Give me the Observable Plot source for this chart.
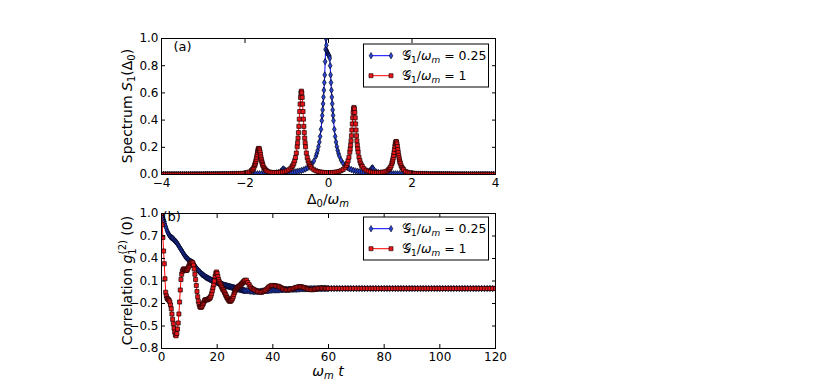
<!DOCTYPE html>
<html>
<head>
<meta charset="utf-8">
<script src="https://cdn.jsdelivr.net/npm/d3@7"></script>
<script src="https://cdn.jsdelivr.net/npm/@observablehq/plot@0.6"></script>
<style>
  html, body { margin: 0; padding: 0; background: #fff; }
  #wrap { position: relative; width: 817px; height: 388px; font-family: "DejaVu Sans", sans-serif; }
  #wrap svg { position: absolute; left: 0; }
</style>
</head>
<body>
<div id="wrap"></div>
<script>
// ---------------- Data: panel (a) spectrum ----------------
const specBlueX = [-4.0,-3.95,-3.9,-3.85,-3.8,-3.75,-3.7,-3.65,-3.6,-3.55,-3.5,-3.45,-3.4,-3.35,-3.3,-3.25,-3.2,-3.15,-3.1,-3.05,
  -3.0,-2.95,-2.9,-2.85,-2.8,-2.75,-2.7,-2.65,-2.6,-2.55,-2.5,-2.45,-2.4,-2.35,-2.3,-2.25,-2.2,-2.15,-2.1,-2.05,
  -2.0,-1.95,-1.9,-1.85,-1.8,-1.75,-1.7,-1.65,-1.6,-1.55,-1.5,-1.45,-1.4,-1.35,-1.3,-1.25,-1.2,-1.15,-1.13,-1.1,-1.08,-1.05,-1.03,-1.0,-0.95,-0.9,-0.85,-0.8,-0.75,-0.7,-0.65,-0.6,-0.55,-0.5,-0.45,-0.4,-0.35,
  -0.3,-0.28,-0.26,-0.24,-0.22,-0.2,-0.18,-0.16,-0.15,-0.14,-0.13,-0.12,-0.11,-0.1,-0.09,-0.08,-0.07,-0.06,-0.05,-0.04,-0.03,-0.02,-0.01,0.0,
  0.01,0.02,0.03,0.04,0.05,0.06,0.07,0.08,0.09,0.1,0.11,0.12,0.14,0.16,0.18,0.2,0.22,0.24,0.26,0.3,0.35,0.4,0.45,0.5,0.55,0.6,0.65,0.7,0.75,0.8,0.85,
  0.9,0.95,1.0,1.03,1.05,1.07,1.1,1.15,1.2,1.25,1.3,1.35,1.4,1.45,1.5,1.55,1.6,1.65,1.7,1.75,1.8,1.85,1.9,1.95,
  2.0,2.05,2.1,2.15,2.2,2.25,2.3,2.35,2.4,2.45,2.5,2.55,2.6,2.65,2.7,2.75,2.8,2.85,2.9,2.95,
  3.0,3.05,3.1,3.15,3.2,3.25,3.3,3.35,3.4,3.45,3.5,3.55,3.6,3.65,3.7,3.75,3.8,3.85,3.9,3.95,4.0];
const specBlueY = [0.001,0.001,0.001,0.001,0.001,0.001,0.001,0.001,0.001,0.001,0.001,0.001,0.001,0.001,0.001,0.001,0.001,0.001,0.001,0.001,
  0.001,0.002,0.002,0.002,0.002,0.002,0.002,0.002,0.002,0.002,0.002,0.002,0.002,0.002,0.003,0.003,0.003,0.003,0.003,0.003,
  0.003,0.003,0.004,0.004,0.004,0.005,0.005,0.005,0.005,0.006,0.006,0.007,0.007,0.008,0.010,0.012,0.014,0.020,0.026,0.037,0.041,0.034,0.027,0.021,0.017,0.015,0.017,0.019,0.022,0.025,0.029,0.034,0.041,0.049,0.061,0.077,0.100,
  0.135,0.154,0.177,0.205,0.239,0.280,0.332,0.396,0.434,0.475,0.520,0.569,0.620,0.676,0.732,0.830,0.920,1.000,0.950,0.910,0.900,0.890,0.885,0.880,
  0.875,0.870,0.855,0.800,0.732,0.676,0.620,0.569,0.520,0.475,0.434,0.396,0.332,0.280,0.239,0.205,0.177,0.154,0.135,0.106,0.081,0.064,0.051,0.042,0.036,0.030,0.026,0.023,0.020,0.017,0.016,
  0.018,0.021,0.031,0.044,0.049,0.044,0.030,0.018,0.013,0.011,0.009,0.008,0.007,0.006,0.006,0.005,0.005,0.005,0.005,0.004,0.004,0.004,0.004,0.003,
  0.003,0.003,0.003,0.003,0.003,0.003,0.003,0.003,0.002,0.002,0.002,0.002,0.002,0.002,0.002,0.002,0.002,0.002,0.002,0.002,
  0.001,0.001,0.001,0.001,0.001,0.001,0.001,0.001,0.001,0.001,0.001,0.001,0.001,0.001,0.001,0.001,0.001,0.001,0.001,0.001,0.001];

const specRedX = [-4.0,-3.95,-3.9,-3.85,-3.8,-3.75,-3.7,-3.65,-3.6,-3.55,-3.5,-3.45,-3.4,-3.35,-3.3,-3.25,-3.2,-3.15,-3.1,-3.05,
  -3.0,-2.95,-2.9,-2.85,-2.8,-2.75,-2.7,-2.65,-2.6,-2.55,-2.5,-2.45,-2.4,-2.35,-2.3,-2.25,-2.2,-2.15,-2.1,-2.05,
  -2.0,-1.95,-1.9,-1.85,-1.83,-1.81,-1.79,-1.77,-1.76,-1.75,-1.74,-1.73,-1.72,-1.71,-1.7,-1.69,-1.68,-1.67,-1.66,-1.65,-1.64,-1.63,-1.62,-1.61,-1.6,-1.59,-1.58,-1.57,-1.55,-1.53,-1.51,-1.49,
  -1.45,-1.4,-1.35,-1.3,-1.25,-1.2,-1.15,-1.1,-1.05,-1.0,-0.95,-0.9,-0.87,-0.85,-0.83,-0.81,-0.79,-0.77,-0.75,-0.74,-0.73,-0.72,-0.71,-0.7,-0.69,-0.68,-0.67,-0.66,-0.65,
  -0.64,-0.63,-0.62,-0.61,-0.6,-0.59,-0.58,-0.57,-0.56,-0.55,-0.53,-0.51,-0.49,-0.47,-0.45,-0.43,-0.4,-0.35,-0.3,-0.25,-0.2,-0.15,-0.1,-0.05,0.0,0.05,0.1,0.15,0.2,0.25,0.3,0.35,0.4,0.43,0.45,0.47,0.49,
  0.51,0.52,0.53,0.54,0.55,0.56,0.57,0.58,0.59,0.6,0.61,0.62,0.63,0.64,0.65,0.66,0.67,0.68,0.69,0.7,0.71,0.73,0.75,0.77,0.79,0.81,0.85,0.9,0.95,1.0,1.05,1.1,1.15,1.2,1.25,1.3,1.35,1.4,
  1.44,1.46,1.48,1.5,1.52,1.53,1.54,1.55,1.56,1.57,1.58,1.59,1.6,1.61,1.62,1.63,1.64,1.65,1.66,1.67,1.68,1.69,1.7,1.71,1.72,1.74,1.76,1.78,1.8,1.85,1.9,1.95,
  2.0,2.05,2.1,2.15,2.2,2.25,2.3,2.35,2.4,2.45,2.5,2.55,2.6,2.65,2.7,2.75,2.8,2.85,2.9,2.95,
  3.0,3.05,3.1,3.15,3.2,3.25,3.3,3.35,3.4,3.45,3.5,3.55,3.6,3.65,3.7,3.75,3.8,3.85,3.9,3.95,4.0];
const specRedY = [0.001,0.001,0.001,0.001,0.001,0.001,0.001,0.001,0.001,0.001,0.001,0.001,0.001,0.001,0.001,0.001,0.001,0.001,0.001,0.001,
  0.001,0.002,0.002,0.002,0.002,0.002,0.002,0.002,0.002,0.003,0.003,0.003,0.003,0.004,0.004,0.004,0.005,0.005,0.006,0.008,
  0.010,0.013,0.018,0.027,0.033,0.040,0.050,0.065,0.074,0.085,0.097,0.111,0.128,0.145,0.163,0.178,0.188,0.192,0.189,0.179,0.164,0.146,0.129,0.112,0.098,0.086,0.075,0.066,0.051,0.042,0.034,0.029,
  0.022,0.017,0.015,0.014,0.013,0.015,0.016,0.018,0.021,0.026,0.035,0.047,0.059,0.069,0.083,0.101,0.125,0.158,0.204,0.233,0.268,0.308,0.354,0.407,0.463,0.518,0.567,0.601,0.613,
  0.600,0.567,0.518,0.463,0.407,0.354,0.308,0.268,0.233,0.204,0.158,0.125,0.101,0.083,0.069,0.059,0.047,0.035,0.027,0.022,0.019,0.016,0.015,0.014,0.014,0.014,0.015,0.016,0.019,0.022,0.028,0.037,0.053,0.067,0.082,0.101,0.127,
  0.164,0.188,0.216,0.248,0.285,0.327,0.372,0.417,0.456,0.483,0.493,0.483,0.456,0.417,0.372,0.327,0.285,0.248,0.216,0.188,0.164,0.128,0.102,0.083,0.068,0.058,0.042,0.031,0.024,0.019,0.017,0.015,0.014,0.014,0.015,0.017,0.020,0.026,
  0.035,0.042,0.051,0.064,0.082,0.093,0.107,0.123,0.141,0.162,0.184,0.206,0.225,0.238,0.243,0.238,0.225,0.206,0.184,0.162,0.141,0.123,0.107,0.093,0.082,0.064,0.051,0.042,0.035,0.022,0.016,0.012,
  0.010,0.008,0.006,0.005,0.005,0.004,0.004,0.004,0.003,0.003,0.003,0.003,0.002,0.002,0.002,0.002,0.002,0.002,0.002,0.002,
  0.001,0.001,0.001,0.001,0.001,0.001,0.001,0.001,0.001,0.001,0.001,0.001,0.001,0.001,0.001,0.001,0.001,0.001,0.001,0.001,0.001];

// ---------------- Data: panel (b) correlation ----------------
const corrT = [0,0.25,0.5,0.75,1,1.25,1.5,1.75,2,2.25,2.5,2.75,3,3.25,3.5,3.75,4,4.25,4.5,4.75,5,5.25,5.5,5.75,6,6.25,6.5,6.75,7,7.25,7.5,7.75,8,8.25,8.5,8.75,9,9.25,9.5,9.75,
  10,10.25,10.5,10.75,11,11.25,11.5,11.75,12,12.25,12.5,12.75,13,13.25,13.5,13.75,14,14.25,14.5,14.75,15,15.25,15.5,15.75,16,16.25,16.5,16.75,17,17.25,17.5,17.75,18,18.25,18.5,18.75,19,19.25,19.5,19.75,
  20,20.25,20.5,20.75,21,21.25,21.5,21.75,22,22.25,22.5,22.75,23,23.25,23.5,23.75,24,24.25,24.5,24.75,25,25.25,25.5,25.75,26,26.25,26.5,26.75,27,27.25,27.5,27.75,28,28.25,28.5,28.75,29,29.25,29.5,29.75,
  30,30.5,31,31.5,32,32.5,33,33.5,34,34.5,35,35.5,36,36.5,37,37.5,38,38.5,39,39.5,40,40.5,41,41.5,42,42.5,43,43.5,44,44.5,
  45,45.5,46,46.5,47,47.5,48,48.5,49,49.5,50,50.5,51,51.5,52,52.5,53,53.5,54,54.5,55,55.5,56,56.5,57,57.5,58,58.5,59,59.5,
  60,61,62,63,64,65,66,67,68,69,70,71,72,73,74,75,76,77,78,79,80,81,82,83,84,85,86,87,88,89,90,
  91,92,93,94,95,96,97,98,99,100,101,102,103,104,105,106,107,108,109,110,111,112,113,114,115,116,117,118,119,120];
const corrBlue = [1.0,0.975,0.95,0.92, 0.89,0.86,0.83,0.80, 0.77,0.75,0.73,0.715, 0.70,0.69,0.68,0.675, 0.67,0.66,0.65,0.64,
  0.63,0.62,0.61,0.595, 0.58,0.565,0.55,0.535, 0.52,0.505,0.49,0.475, 0.46,0.445,0.43,0.42, 0.41,0.40,0.39,0.38,
  0.37,0.365,0.36,0.355, 0.35,0.34,0.33,0.315, 0.30,0.285,0.27,0.26, 0.25,0.24,0.23,0.22, 0.21,0.20,0.19,0.185,
  0.18,0.17,0.165,0.155, 0.15,0.145,0.14,0.135, 0.13,0.125,0.12,0.115, 0.11,0.105,0.105,0.10, 0.10,0.095,0.09,0.085,
  0.08,0.078,0.075,0.072, 0.07,0.065,0.06,0.055, 0.05,0.048,0.045,0.042, 0.04,0.037,0.035,0.032, 0.03,0.027,0.025,0.022,
  0.02,0.017,0.015,0.012, 0.01,0.007,0.005,0.002, 0.0,-0.003,-0.005,-0.008, -0.01,-0.012,-0.015,-0.018, -0.02,-0.022,-0.025,-0.028,
  -0.03,-0.03, -0.03,-0.033, -0.035,-0.037, -0.04,-0.04, -0.04,-0.04, -0.04,-0.038, -0.035,-0.032, -0.03,-0.03, -0.03,-0.028, -0.025,-0.022,
  -0.02,-0.02, -0.02,-0.02, -0.02,-0.018, -0.017,-0.016, -0.015,-0.013, -0.012,-0.011, -0.01,-0.01, -0.01,-0.01, -0.01,-0.009, -0.008,-0.007,
  -0.005,-0.005, -0.005,-0.005, -0.005,-0.004, -0.004,-0.003, -0.003,-0.003, -0.002,-0.002, -0.002,-0.001, -0.001,-0.001, 0,0, 0,0,
  0,0,0,0,0,0,0,0,0,0,0,0,0,0,0,0,0,0,0,0,0,0,0,0,0,0,0,0,0,0,0,
  0,0,0,0,0,0,0,0,0,0,0,0,0,0,0,0,0,0,0,0,0,0,0,0,0,0,0,0,0,0];
const corrRed = [1.0,0.85,0.68,0.50, 0.33,0.13,-0.05,-0.10, -0.13,-0.14,-0.15,-0.16, -0.18,-0.22,-0.27,-0.34, -0.41,-0.47,-0.53,-0.58,
  -0.62,-0.63,-0.60,-0.54, -0.46,-0.34,-0.18,-0.02, 0.12,0.19,0.23,0.25, 0.26,0.26,0.25,0.24, 0.24,0.25,0.27,0.29,
  0.31,0.33,0.34,0.35, 0.35,0.34,0.31,0.26, 0.19,0.12,0.04,-0.04, -0.11,-0.17,-0.21,-0.24, -0.25,-0.25,-0.24,-0.22,
  -0.20,-0.18,-0.16,-0.15, -0.15,-0.15,-0.15,-0.14, -0.14,-0.13,-0.12,-0.10, -0.07,-0.03,0.01,0.05, 0.10,0.16,0.20,0.22,
  0.20,0.16,0.12,0.09, 0.07,0.05,0.03,0.01, -0.01,-0.02,-0.04,-0.06, -0.08,-0.10,-0.12,-0.13, -0.15,-0.16,-0.17,-0.17,
  -0.16,-0.15,-0.13,-0.11, -0.08,-0.05,-0.03,-0.01, 0.0,0.01,0.02,0.03, 0.03,0.04,0.05,0.06, 0.07,0.08,0.09,0.10,
  0.11,0.11, 0.08,0.05, 0.02,0.0, -0.01,-0.02, -0.03,-0.04, -0.04,-0.05, -0.05,-0.04, -0.03,-0.02, 0.0,0.02, 0.03,0.04,
  0.04,0.04, 0.035,0.03, 0.03,0.02, 0.01,0.0, -0.01,-0.015, -0.02,-0.02, -0.015,-0.01, -0.005,0.0, 0.01,0.015, 0.02,0.025,
  0.025,0.02, 0.015,0.01, 0.0,-0.005, -0.01,-0.015, -0.015,-0.015, -0.01,-0.005, 0.0,0.0, 0.005,0.005, 0.005,0.005, 0.0,0.0,
  0,0,0,0,0,0,0,0,0,0,0,0,0,0,0,0,0,0,0,0,0,0,0,0,0,0,0,0,0,0,0,
  0,0,0,0,0,0,0,0,0,0,0,0,0,0,0,0,0,0,0,0,0,0,0,0,0,0,0,0,0,0];

// ---------------- Ticks and labels ----------------
const specXTicks = [-4, -2, 0, 2, 4];
const specYTicks = [0.0, 0.2, 0.4, 0.6, 0.8, 1.0];
const corrXTicks = [0, 20, 40, 60, 80, 100, 120];
const corrYTicks = [1.0, 0.7, 0.4, 0.1, -0.2, -0.5, -0.8];
const seriesValues = ["0.25", "1"];
const panelTags = ["(a)", "(b)"];

// ---------------- Styling ----------------
const W = 817;
const FONT = "'DejaVu Sans', sans-serif";
const blueLine = "#0000ff", blueFill = "#2a46d6", blueEdge = "#000018";
const redLine = "#ff0000", redFill = "#e8161a", redEdge = "#1a0000";
const squareR = 2.3, diamondR = 1.95;

function seriesMarks(blue, red) {
  return [
    Plot.line(blue, {x: "x", y: "y", stroke: blueLine, strokeWidth: 1, clip: true}),
    Plot.dot(blue, {x: "x", y: "y", symbol: "diamond", r: diamondR, fill: blueFill, stroke: blueEdge, strokeWidth: 0.7, clip: true}),
    Plot.line(red, {x: "x", y: "y", stroke: redLine, strokeWidth: 1, clip: true}),
    Plot.dot(red, {x: "x", y: "y", symbol: "square", r: squareR, fill: redFill, stroke: redEdge, strokeWidth: 0.7, clip: true})
  ];
}

function axesMarks(xt, yt, xfmt, yfmt) {
  return [
    Plot.frame({stroke: "#000", strokeWidth: 1}),
    Plot.axisX(xt, {anchor: "bottom", tickSize: -4, tickPadding: 8, tickFormat: xfmt, label: null, fontSize: 12}),
    Plot.axisX(xt, {anchor: "top", tickSize: -4, tickFormat: () => "", label: null}),
    Plot.axisY(yt, {anchor: "left", tickSize: -4, tickPadding: 7, tickFormat: yfmt, label: null, fontSize: 12}),
    Plot.axisY(yt, {anchor: "right", tickSize: -4, tickFormat: () => "", label: null})
  ];
}

const commonStyle = {fontFamily: FONT, fontSize: "12px", color: "#000", background: "none", overflow: "visible"};

const specBlue = specBlueX.map((x, i) => ({x, y: specBlueY[i]}));
const specRed = specRedX.map((x, i) => ({x, y: specRedY[i]}));
const corrBlueData = corrT.map((x, i) => ({x, y: corrBlue[i]}));
const corrRedData = corrT.map((x, i) => ({x, y: corrRed[i]}));

const plotA = Plot.plot({
  width: W, height: 200,
  marginLeft: 161, marginRight: 322, marginTop: 38, marginBottom: 26,
  style: commonStyle,
  x: {domain: [-4, 4]},
  y: {domain: [0, 1]},
  marks: [
    ...seriesMarks(specBlue, specRed),
    ...axesMarks(specXTicks, specYTicks, d3.format("d"), d3.format(".1f")),
    Plot.text([panelTags[0]], {frameAnchor: "top-left", dx: 12, dy: 3, lineAnchor: "top", textAnchor: "start", fontSize: 13})
  ]
});

const plotB = Plot.plot({
  width: W, height: 188,
  marginLeft: 161, marginRight: 322, marginTop: 13, marginBottom: 40,
  style: commonStyle,
  x: {domain: [0, 120]},
  y: {domain: [-0.8, 1.0]},
  marks: [
    ...seriesMarks(corrBlueData, corrRedData),
    ...axesMarks(corrXTicks, corrYTicks, d3.format("d"), d3.format(".1f")),
    Plot.text([panelTags[1]], {frameAnchor: "top-left", dx: 1, dy: -2, lineAnchor: "top", textAnchor: "start", fontSize: 13})
  ]
});

const wrap = document.getElementById("wrap");
plotA.style.top = "0px";
plotB.style.top = "200px";
wrap.append(plotA, plotB);

// rich text helper: parts [{t, it, sh (px shift, + down), fs, dx}]
function richText(parent, parts, attrs) {
  const t = parent.append("text");
  for (const [k, v] of Object.entries(attrs)) t.attr(k, v);
  let base = 0;
  for (const p of parts) {
    const s = t.append("tspan").text(p.t);
    const target = p.sh || 0;
    if (target !== base) { s.attr("dy", target - base); base = target; }
    if (p.it) s.attr("font-style", "italic");
    if (p.fs) s.attr("font-size", p.fs);
    if (p.dx) s.attr("dx", p.dx);
    if (p.ff) s.attr("font-family", p.ff);
  }
  return t;
}

function decorate(plot, xParts, yParts, xBaselineOffset, legendTop) {
  const svg = d3.select(plot);
  const [x0, x1] = plot.scale("x").range;
  const yr = plot.scale("y").range;
  const yTop = Math.min(...yr), yBot = Math.max(...yr);
  const g = svg.append("g").attr("font-family", FONT).attr("fill", "#000");
  // axis labels
  richText(g, xParts, {x: (x0 + x1) / 2, y: yBot + xBaselineOffset, "text-anchor": "middle", "font-size": 14});
  richText(g, yParts, {transform: `translate(132,${(yTop + yBot) / 2}) rotate(-90)`, "text-anchor": "middle", "font-size": 14});
  // legend
  const lw = 125, lh = 43;
  const lx = x1 - 6.5 - lw, ly = yTop + legendTop;
  const lg = svg.append("g").attr("text-anchor", "start");
  lg.append("rect").attr("x", lx).attr("y", ly).attr("width", lw).attr("height", lh)
    .attr("fill", "#fff").attr("stroke", "#000").attr("stroke-width", 1);
  const rows = [
    {line: blueLine, fill: blueFill, edge: blueEdge, sym: d3.symbolDiamond, size: Math.PI * diamondR * diamondR},
    {line: redLine, fill: redFill, edge: redEdge, sym: d3.symbolSquare, size: Math.PI * squareR * squareR}
  ];
  rows.forEach((r, i) => {
    const cy = ly + 11.7 + i * 20;
    const ax = lx + 7.5, bx = lx + 27.5;
    lg.append("line").attr("x1", ax).attr("x2", bx).attr("y1", cy).attr("y2", cy).attr("stroke", r.line).attr("stroke-width", 1);
    for (const mx of [ax, bx]) {
      lg.append("path").attr("d", d3.symbol(r.sym, r.size)()).attr("transform", `translate(${mx},${cy})`)
        .attr("fill", r.fill).attr("stroke", r.edge).attr("stroke-width", 0.6);
    }
    richText(lg, [
      {t: "\u{1D4A2}"},
      {t: "1", sh: 3, fs: 9},
      {t: "/", sh: 0},
      {t: "ω", it: true},
      {t: "m", it: true, sh: 3, fs: 9},
      {t: " = " + seriesValues[i], sh: 0}
    ], {x: lx + 38.5, y: cy + 4.5, "font-size": 12.5, "font-family": FONT, "text-anchor": "start", fill: "#000"});
  });
}

decorate(plotA,
  [{t: "Δ"}, {t: "0", sh: 3, fs: 10}, {t: "/", sh: 0}, {t: "ω", it: true}, {t: "m", it: true, sh: 3, fs: 10}],
  [{t: "Spectrum "}, {t: "S", it: true}, {t: "1", sh: 3, fs: 10}, {t: "(Δ", sh: 0}, {t: "0", sh: 3, fs: 10}, {t: ")", sh: 0}],
  30, 6);

decorate(plotB,
  [{t: "ω", it: true}, {t: "m", it: true, sh: 3, fs: 10}, {t: " t", it: true, sh: 0}],
  [{t: "Correlation "}, {t: "g", it: true}, {t: "1", sh: 3.5, fs: 10}, {t: "(2)", sh: -6, fs: 10, dx: -6}, {t: " (0)", sh: 0}],
  28, 4);
</script>
</body>
</html>
